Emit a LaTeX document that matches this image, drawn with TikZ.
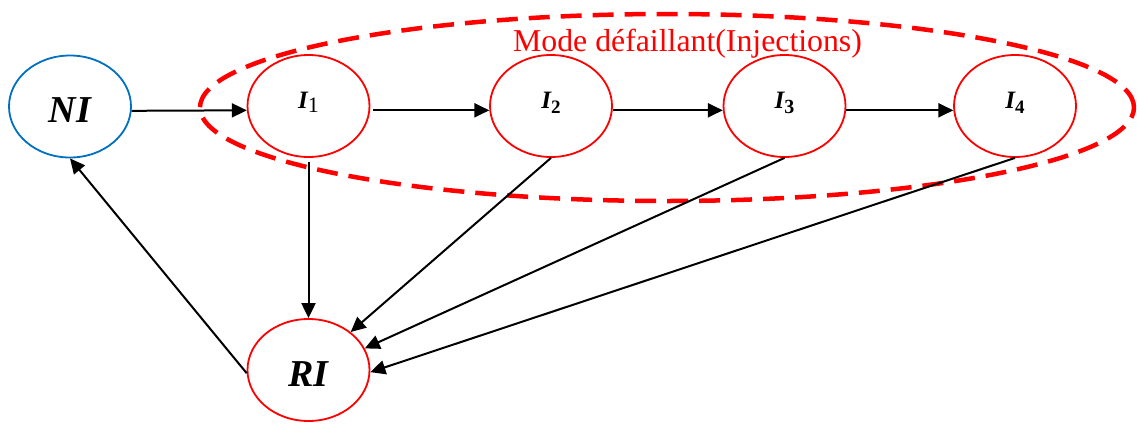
\documentclass[tikz,border=0pt]{standalone}
\usepackage{fontspec}
\setmainfont{Liberation Serif}
\usetikzlibrary{shapes.geometric,arrows.meta}
\definecolor{niblue}{RGB}{0,112,192}
\begin{document}
\begin{tikzpicture}[x=1pt,y=-1pt,
  state/.style={ellipse,draw,line width=1.8pt,minimum width=122pt,minimum height=102pt,inner sep=0pt,text depth=0pt},
  redstate/.style={state,draw=red,text height=4pt},
  arr/.style={line width=2pt,-{Triangle[length=15pt,width=14pt]}},
  group/.style={ellipse,draw=red,line width=4.5pt,dash pattern=on 21pt off 11pt,minimum width=934pt,minimum height=187pt,inner sep=0pt},
  bigtxt/.style={font=\fontsize{38}{40}\selectfont\bfseries\itshape}
]
\useasboundingbox (0,0) rectangle (1137,423);
\node[group] (mode) at (667,107.5) {};
\node[anchor=base,inner sep=0pt,text=red,font=\fontsize{31.8}{34}\selectfont] (lbl) at (687.5,51) {Mode défaillant(Injections)};
\node[state,draw=niblue,text height=31pt,bigtxt] (NI) at (70,106.5) {NI};
\node[redstate] (I1) at (308.5,106) {{\fontsize{25}{26}\selectfont\bfseries\itshape I}\raisebox{-4pt}{\fontsize{22}{22}\selectfont 1}};
\node[redstate] (I2) at (551,106) {{\fontsize{25}{26}\selectfont\bfseries\itshape I}\raisebox{-5pt}{\fontsize{19}{20}\selectfont\bfseries 2}};
\node[redstate] (I3) at (784.5,106) {{\fontsize{25}{26}\selectfont\bfseries\itshape I}\raisebox{-5pt}{\fontsize{20}{20}\selectfont\bfseries 3}};
\node[redstate] (I4) at (1015,106) {{\fontsize{25}{26}\selectfont\bfseries\itshape I}\raisebox{-5pt}{\fontsize{19}{20}\selectfont\bfseries 4}};
\node[state,draw=red,text height=32pt,bigtxt] (RI) at (308.5,370) {RI};
\draw[arr] (NI.-4) -- (I1.184);
\draw[arr,shorten <=3pt] (I1.-4) -- (I2.184);
\draw[arr] (I2.-4) -- (I3.184);
\draw[arr] (I3.-4) -- (I4.184);
\draw[arr,shorten <=4pt] (I1.south) -- (RI.north);
\draw[arr] (I2.south) -- (RI.42);
\draw[arr] (I3.south) -- (RI.21);
\draw[arr] (I4.south) -- (RI.-2);
\draw[arr] (RI.183) -- (NI.south);
\end{tikzpicture}
\end{document}
